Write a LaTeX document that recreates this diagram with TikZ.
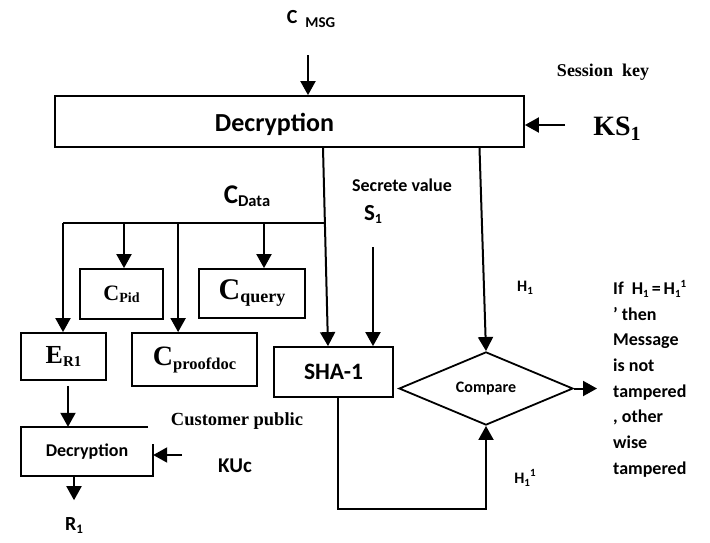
\documentclass[tikz,border=0pt]{standalone}
\usepackage{fontspec}
\setmainfont{Carlito}
\newfontfamily\serifb{Liberation Serif}
\usetikzlibrary{arrows.meta,shapes.geometric}

% font size helper
\newcommand\fsz[1]{\fontsize{#1}{#1}\selectfont}
% lowered subscript in a given size
\newcommand\lsub[3]{\raisebox{-#1}{\fsz{#2}#3}}

\tikzset{
  boxline/.style={line width=1.8pt},
  blk/.style={draw, boxline, inner sep=0pt, font=\bfseries},
  conn/.style={line width=2pt, -{Triangle[width=15pt,length=14pt]}},
  wire/.style={line width=2pt},
  lbl/.style={inner sep=0pt, font=\bfseries},
}

\begin{document}
\begin{tikzpicture}[x=1pt,y=-1pt]
\useasboundingbox (0,0) rectangle (710,542);

% ---- boxes ----
\node[blk, minimum width=469pt, minimum height=51pt] (dec) at (289.5,121.5) {};
\node[lbl, font=\bfseries\fsz{26}] (dectxt) at (274.5,124) {Decryption};
\node[blk, minimum width=83pt, minimum height=50pt] (pid) at (121.5,294)
  {\serifb\bfseries\fsz{22}C\lsub{2pt}{14}{Pid}};
\node[blk, minimum width=106pt, minimum height=49pt] (query) at (252,293.5)
  {\serifb\bfseries\fsz{30}C\lsub{3pt}{18}{query}};
\node[blk, minimum width=85pt, minimum height=47pt] (er) at (63.5,356.5)
  {\serifb\bfseries\fsz{26}E\lsub{3pt}{15}{R1}};
\node[blk, minimum width=125pt, minimum height=53pt] (proof) at (194.5,359.5)
  {\serifb\bfseries\fsz{28}C\lsub{4pt}{16.5}{proofdoc}};
\node[blk, minimum width=119pt, minimum height=50pt, font=\bfseries\fsz{23.5}]
  (sha) at (333.5,372) {SHA-1};
\node[diamond, draw, boxline, inner sep=0pt, minimum width=174pt,
  minimum height=71pt, font=\bfseries\fsz{16}] (cmp) at (486,388.5) {Compare};
\node[lbl, minimum width=132pt, minimum height=49pt, font=\bfseries\fsz{18}]
  (dec2) at (87,451.5) {Decryption};
\draw[boxline] ([xshift=-5pt]dec2.north east) -- (dec2.north west)
  -- (dec2.south west) -- (dec2.south east) -- ([yshift=-17pt]dec2.north east);

% ---- labels ----
\node[lbl, font=\bfseries\fsz{20}] (cmsg) at (311,19) {C\hspace{8pt}\lsub{4pt}{15}{MSG}};
\node[lbl, font=\serifb\bfseries\fsz{18}] (skey) at (603,72) {Session~~key};
\node[lbl, font=\serifb\bfseries\fsz{28}] (ks) at (617,129) {KS\lsub{5pt}{20}{1}};
\node[lbl, font=\bfseries\fsz{27}] (cdata) at (247,196) {C\lsub{3pt}{16.5}{Data}};
\node[lbl, font=\bfseries\fsz{18}] (secv) at (402,185) {Secrete value};
\node[lbl, font=\bfseries\fsz{23}] (s1) at (373,214) {S\lsub{3pt}{14}{1}};
\node[lbl, font=\bfseries\fsz{16}] (h1) at (525,288) {H\lsub{3pt}{11}{1}};
\node[lbl, font=\bfseries\fsz{16}] (h11) at (525,478)
  {H\lsub{3pt}{11}{1}\raisebox{7pt}{\fsz{11}1}};
\node[lbl, font=\serifb\bfseries\fsz{18.5}] (cpub) at (237,421) {Customer public};
\node[lbl, font=\bfseries\fsz{21}] (kuc) at (235,466) {KUc};
\node[lbl, font=\bfseries\fsz{20}] (r1) at (74,526) {R\lsub{3pt}{13}{1}};
\node[lbl, anchor=north west, align=left, font=\bfseries\fontsize{18}{25.7}\selectfont]
  (res) at (613,280)
  {If~~H\lsub{3pt}{11}{1}\,=\,H\lsub{3pt}{11}{1}\raisebox{7pt}{\fsz{11}1}\\
   ' then\\ Message\\ is not\\ tampered\\ , other\\ wise\\ tampered};

% ---- free ends of connectors ----
\coordinate (cmsgend) at (308,55);
\coordinate (ksend) at (565,125);
\coordinate (bl) at (63,223);
\coordinate (br) at (324,223);
\coordinate (s1end) at (373,247);
\coordinate (outend) at (597,388.5);
\coordinate (kuend) at (182,455);

% ---- connectors ----
\draw[conn] (cmsgend) -- (cmsgend |- dec.north);
\draw[conn] (ksend) -- (ksend -| dec.east);
\draw[conn] ([xshift=33.5pt]dec.south) -- ([xshift=-5.5pt]sha.north);
\draw[conn] ([xshift=190pt]dec.south) -- (cmp.north);
\draw[wire] (bl) -- (br);
\draw[conn] (bl) -- (er.north -| bl);
\draw[conn] ([xshift=2.5pt]pid.north |- bl) -- ([xshift=2.5pt]pid.north);
\draw[conn] ([xshift=47pt]proof.north west |- bl) -- ([xshift=47pt]proof.north west);
\draw[conn] ([xshift=12pt]query.north |- bl) -- ([xshift=12pt]query.north);
\draw[conn] (s1end) -- (s1end |- sha.north);
\draw[conn] (cmp.east) -- (outend);
\draw[conn] ([xshift=4.5pt]sha.south) -- ++(0,111) -| (cmp.south);
\draw[conn, shorten <=5pt] ([xshift=4.5pt]er.south) -- ([xshift=4.5pt]er.south |- dec2.north);
\draw[conn] (kuend) -- (kuend -| dec2.east);
\draw[conn] ([xshift=-13pt]dec2.south) -- ++(0,24);
\end{tikzpicture}
\end{document}
